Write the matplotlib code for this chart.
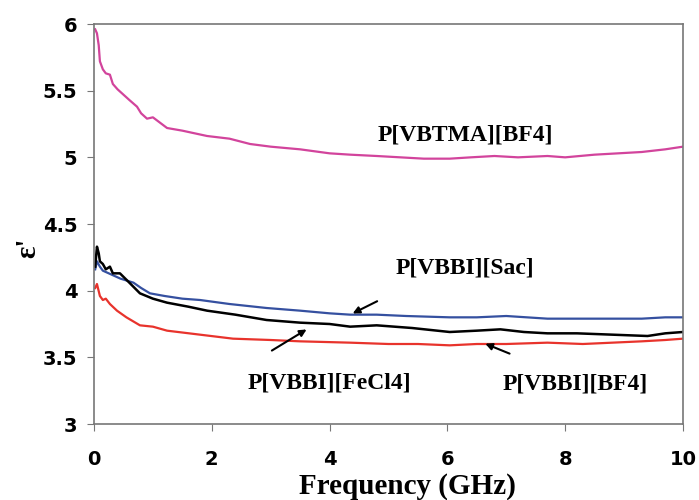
import matplotlib
matplotlib.use('Agg')
from matplotlib import pyplot as plt

# Frequency (GHz) and permittivity values

freq_vbtma = [0.02, 0.05, 0.08, 0.1, 0.15, 0.2, 0.27, 0.32, 0.4, 0.5, 0.6, 0.73, 0.8, 0.9, 1.0,
              1.24, 1.5, 1.92, 2.3, 2.65, 3.0, 3.5, 4.0, 4.35, 4.8, 5.2, 5.6, 6.04, 6.4, 6.8,
              7.2, 7.7, 8.0, 8.5, 8.9, 9.3, 9.7, 10.0]
eps_vbtma = [5.96, 5.93, 5.84, 5.72, 5.66, 5.63, 5.62, 5.55, 5.51, 5.47, 5.43, 5.38, 5.33, 5.29,
             5.30, 5.22, 5.20, 5.16, 5.14, 5.10, 5.08, 5.06, 5.03, 5.02, 5.01, 5.00, 4.99, 4.99,
             5.00, 5.01, 5.00, 5.01, 5.00, 5.02, 5.03, 5.04, 5.06, 5.08]

freq_sac = [0.02, 0.05, 0.1, 0.15, 0.2, 0.3, 0.45, 0.67, 0.8, 0.95, 1.2, 1.5, 1.8, 2.3, 2.93,
            3.5, 4.0, 4.35, 4.8, 5.3, 6.04, 6.5, 7.0, 7.7, 8.2, 8.8, 9.3, 9.7, 10.0]
eps_sac = [4.16, 4.22, 4.18, 4.15, 4.14, 4.12, 4.09, 4.06, 4.02, 3.98, 3.96, 3.94, 3.93, 3.90,
           3.87, 3.85, 3.83, 3.82, 3.82, 3.81, 3.80, 3.80, 3.81, 3.79, 3.79, 3.79, 3.79, 3.80, 3.80]

freq_fecl4 = [0.02, 0.05, 0.08, 0.1, 0.15, 0.2, 0.27, 0.32, 0.44, 0.6, 0.78, 1.0, 1.24, 1.6,
              1.92, 2.4, 2.93, 3.5, 4.0, 4.35, 4.8, 5.4, 6.04, 6.5, 6.9, 7.3, 7.7, 8.2, 8.8,
              9.4, 9.7, 10.0]
eps_fecl4 = [4.18, 4.33, 4.28, 4.22, 4.20, 4.16, 4.18, 4.13, 4.13, 4.06, 3.98, 3.94, 3.91, 3.88,
             3.85, 3.82, 3.78, 3.76, 3.75, 3.73, 3.74, 3.72, 3.69, 3.70, 3.71, 3.69, 3.68, 3.68,
             3.67, 3.66, 3.68, 3.69]

freq_bf4 = [0.02, 0.05, 0.1, 0.15, 0.2, 0.27, 0.39, 0.55, 0.78, 1.0, 1.24, 1.8, 2.36, 3.0, 3.5,
            4.35, 5.0, 5.5, 6.04, 6.5, 7.0, 7.7, 8.3, 8.8, 9.3, 9.7, 10.0]
eps_bf4 = [4.02, 4.05, 3.96, 3.93, 3.94, 3.90, 3.85, 3.80, 3.74, 3.73, 3.70, 3.67, 3.64, 3.63,
           3.62, 3.61, 3.60, 3.60, 3.59, 3.60, 3.60, 3.61, 3.60, 3.61, 3.62, 3.63, 3.64]

x_ticks = [0, 2, 4, 6, 8, 10]
y_ticks = [3, 3.5, 4, 4.5, 5, 5.5, 6]
y_labels = ['3', '3.5', '4', '4.5', '5', '5.5', '6']

serifBold = {'family': 'Liberation Serif', 'weight': 'bold'}

fig = plt.figure(figsize=(6.99, 5.0), dpi=100)
ax = fig.add_axes([0.1345, 0.152, 0.8425, 0.8])

ax.plot(freq_vbtma, eps_vbtma, color='#d2449c', lw=1.6)
ax.plot(freq_sac, eps_sac, color='#3550a0', lw=1.6)
ax.plot(freq_fecl4, eps_fecl4, color='black', lw=1.8)
ax.plot(freq_bf4, eps_bf4, color='#e8332c', lw=1.6)

ax.set_xlim(0, 10)
ax.set_ylim(3, 6)
ax.set_xticks(x_ticks)
ax.set_yticks(y_ticks)
ax.set_yticklabels(y_labels)
ax.tick_params(direction='out', length=5, color='#777777', labelsize=14)
ax.tick_params(axis='x', pad=14)
ax.tick_params(axis='y', pad=7)
for lbl in ax.get_xticklabels() + ax.get_yticklabels():
    lbl.set_fontweight('bold')
    lbl.set_family('DejaVu Sans')
for sp in ax.spines.values():
    sp.set_color('#777777')
    sp.set_linewidth(1.2)

ax.set_xlabel('Frequency (GHz)', fontsize=21, va='center', **serifBold)
ax.xaxis.set_label_coords(0.533, -0.155)
ax.set_ylabel("ε'", fontsize=21, va='center', **serifBold)
ax.yaxis.set_label_coords(-0.112, 0.44)

# Curve labels and arrows
ax.text(6.3, 5.17, 'P[VBTMA][BF4]', fontsize=17, ha='center', va='center', **serifBold)
ax.text(6.3, 4.17, 'P[VBBI][Sac]', fontsize=17, ha='center', va='center', **serifBold)
ax.text(4.0, 3.31, 'P[VBBI][FeCl4]', fontsize=17, ha='center', va='center', **serifBold)
ax.text(8.17, 3.30, 'P[VBBI][BF4]', fontsize=17, ha='center', va='center', **serifBold)

arrow = dict(arrowstyle='-|>', color='black', lw=1.5, mutation_scale=10)
ax.annotate('', xy=(4.35, 3.82), xytext=(4.85, 3.93), arrowprops=arrow)
ax.annotate('', xy=(3.65, 3.72), xytext=(2.98, 3.54), arrowprops=arrow)
ax.annotate('', xy=(6.6, 3.61), xytext=(7.1, 3.52), arrowprops=arrow)

plt.savefig('out.png', dpi=100)
